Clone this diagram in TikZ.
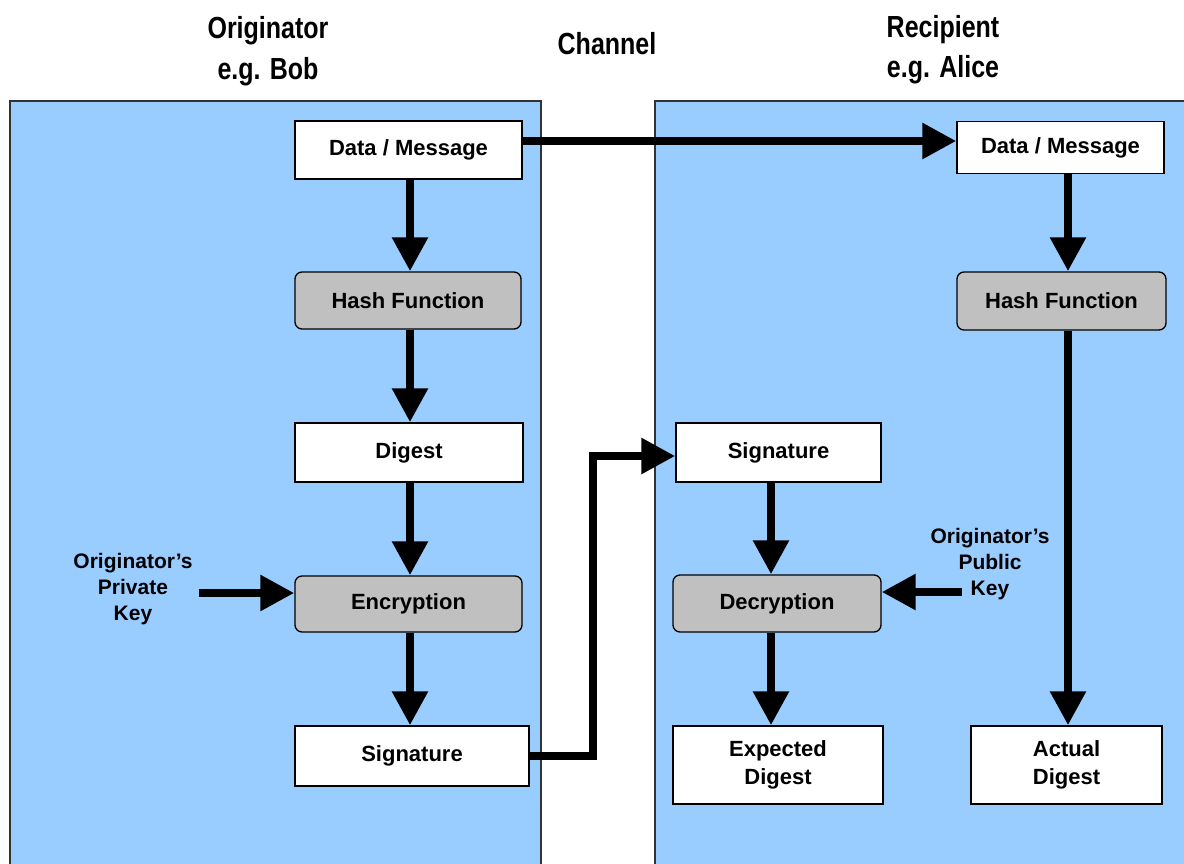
\documentclass[tikz,border=0pt]{standalone}
\usepackage{fontspec}
\setmainfont{Liberation Sans}
\newfontfamily\hdrfont[FakeStretch=0.82]{Liberation Sans}
\usetikzlibrary{arrows.meta}
\definecolor{panelblue}{HTML}{99CCFF}
\definecolor{boxgray}{HTML}{C0C0C0}
\definecolor{panelline}{HTML}{333333}
\tikzset{
  panel/.style={fill=panelblue, draw=panelline, line width=1.3pt},
  wbox/.style={draw=black, fill=white, line width=1.3pt, inner sep=0pt, align=center,
    font=\fontsize{22}{28}\selectfont\bfseries},
  gbox/.style={wbox, fill=boxgray, rounded corners=7pt},
  keytxt/.style={align=center, inner sep=0pt, font=\fontsize{21}{26}\selectfont\bfseries},
  hdr/.style={anchor=base, inner sep=0pt, font=\hdrfont\fontsize{30.5}{36}\selectfont\bfseries},
  arr/.style={line width=8.5pt, -{Triangle[length=34pt,width=34pt]}, line join=miter},
}
\begin{document}
\begin{tikzpicture}[x=1pt,y=-1pt]
\useasboundingbox (0,0) rectangle (1184,863);
\begin{scope}
\clip (0,0) rectangle (1184,863);
\path[panel] (10,101) rectangle (541,880);
\path[panel] (655,101) rectangle (1200,880);
\end{scope}

% headers
\node[hdr] (h1) at (268,38) {Originator};
\node[hdr] (h2) at (268,79) {e.g. Bob};
\node[hdr] (h3) at (607,54) {Channel};
\node[hdr] (h4) at (943,37) {Recipient};
\node[hdr] (h5) at (943,77) {e.g. Alice};

% left column
\node[wbox, minimum width=227pt, minimum height=58pt] (dm1) at (408.5,150) {Data / Message};
\node[gbox, minimum width=226pt, minimum height=57pt] (hf1) at (408,300.5) {Hash Function};
\node[wbox, minimum width=228pt, minimum height=59pt] (dg1) at (409,452.5) {Digest};
\node[gbox, minimum width=227pt, minimum height=56pt] (en1) at (408.5,604) {Encryption};
\node[wbox, minimum width=234pt, minimum height=60pt] (sg1) at (412,756) {Signature};

% right column
\node[wbox, minimum width=207pt, minimum height=52pt] (dm2) at (1060.5,147.5) {Data / Message};
\node[gbox, minimum width=209pt, minimum height=58pt] (hf2) at (1061.5,301) {Hash Function};
\node[wbox, minimum width=191pt, minimum height=78pt] (ad) at (1066.5,765) {Actual\\Digest};
\node[wbox, minimum width=205pt, minimum height=59pt] (sg2) at (778.5,452.5) {Signature};
\node[gbox, minimum width=208pt, minimum height=57pt] (de) at (777,603.5) {Decryption};
\node[wbox, minimum width=210pt, minimum height=78pt] (ed) at (778,765) {Expected\\Digest};

% key labels
\node[keytxt] (pk) at (133,589) {Originator’s\\Private\\Key};
\node[keytxt] (pub) at (990,564) {Originator’s\\Public\\Key};

% left arrows
\coordinate (lx) at (410,0);
\draw[arr] (dm1.south -| lx) -- (hf1.north -| lx);
\draw[arr] (hf1.south -| lx) -- (dg1.north -| lx);
\draw[arr] (dg1.south -| lx) -- (en1.north -| lx);
\draw[arr] (en1.south -| lx) -- (sg1.north -| lx);
\coordinate (pkt) at (199,593);
\draw[arr] (pkt) -- (pkt -| en1.west);

% channel arrows
\coordinate (c1) at ([yshift=9pt]dm1.east);
\draw[arr] (c1) -- (c1 -| dm2.west);
\coordinate (bend) at (593,456);
\draw[arr] (sg1.east) -| (bend) -- (bend -| sg2.west);

% right arrows
\coordinate (rx) at (1068,0);
\draw[arr] (dm2.south -| rx) -- (hf2.north -| rx);
\draw[arr] (hf2.south -| rx) -- (ad.north -| rx);
\coordinate (mx) at (771,0);
\draw[arr] (sg2.south -| mx) -- (de.north -| mx);
\draw[arr] (de.south -| mx) -- (ed.north -| mx);
\coordinate (pubt) at (962,592);
\draw[arr] (pubt) -- (pubt -| de.east);
\end{tikzpicture}
\end{document}
